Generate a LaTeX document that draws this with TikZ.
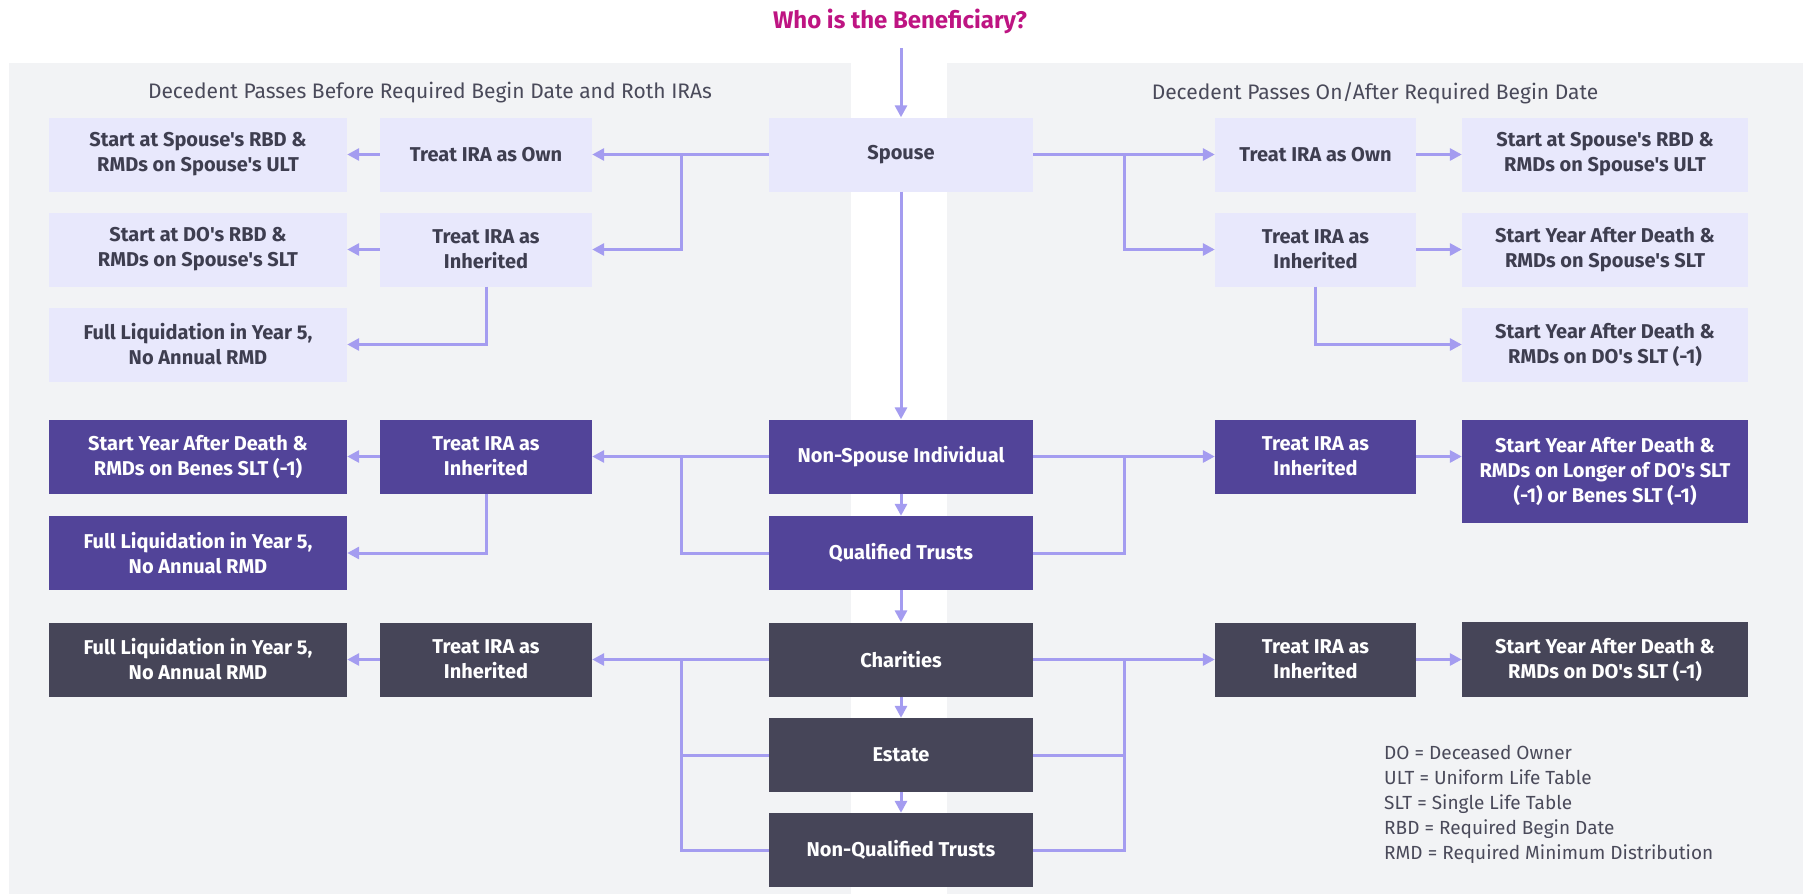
\documentclass[tikz,border=0pt]{standalone}
\usepackage{fontspec}
\setmainfont{Fira Sans}[Ligatures=TeXOff]
\usetikzlibrary{arrows.meta}
\definecolor{panel}{HTML}{F2F3F5}
\definecolor{lightbox}{HTML}{E8E8FC}
\definecolor{purplebox}{HTML}{524499}
\definecolor{darkbox}{HTML}{464558}
\definecolor{arrowc}{HTML}{A49CF0}
\definecolor{magentat}{HTML}{BE1482}
\definecolor{textdark}{HTML}{3E3E50}
\definecolor{headtext}{HTML}{4A4A5A}
\begin{document}
\begin{tikzpicture}[x=1pt,y=-1pt,
 box/.style={inner sep=0pt, align=center, font=\fontsize{20}{25}\selectfont\bfseries},
 lbox/.style={box, fill=lightbox, text=textdark},
 pbox/.style={box, fill=purplebox, text=white},
 dbox/.style={box, fill=darkbox, text=white},
 colL1/.style={minimum width=298pt},
 colL2/.style={minimum width=212pt},
 colC/.style={minimum width=264pt},
 colR2/.style={minimum width=201pt},
 colR3/.style={minimum width=286pt},
 rowh/.style={minimum height=74pt},
 arr/.style={draw=arrowc, line width=3pt, -{Triangle[length=12pt,width=12pt]}},
 link/.style={draw=arrowc, line width=3pt},
 head/.style={text=headtext, font=\fontsize{21}{25}\selectfont},
]
\useasboundingbox (0,0) rectangle (1803,894);
\fill[white] (0,0) rectangle (1803,894);
\fill[panel] (9,63) rectangle (851,894);
\fill[panel] (947,63) rectangle (1803,894);

\node[text=magentat, font=\fontsize{24}{28}\selectfont\bfseries] (title) at (900,21) {Who is the Beneficiary?};
\node[head] (hl) at (430,93) {Decedent Passes Before Required Begin Date and Roth IRAs};
\node[head] (hr) at (1375,93) {Decedent Passes On/After Required Begin Date};

% spouse block
\node[lbox, colC, rowh] (sp) at (901,154.5) {Spouse};
\node[lbox, colL2, rowh] (l2own) at (486,154.5) {Treat IRA as Own};
\node[lbox, colL1, rowh] (l1own) at (198,154.5) {Start at Spouse's RBD \&\\RMDs on Spouse's ULT};
\node[lbox, colL2, rowh] (l2inh) at (486,249.5) {Treat IRA as\\Inherited};
\node[lbox, colL1, rowh] (l1inh) at (198,249.5) {Start at DO's RBD \&\\RMDs on Spouse's SLT};
\node[lbox, colL1, rowh] (l1liq) at (198,344.5) {Full Liquidation in Year 5,\\No Annual RMD};
\node[lbox, colR2, rowh] (r2own) at (1315.5,154.5) {Treat IRA as Own};
\node[lbox, colR3, rowh] (r3own) at (1605,154.5) {Start at Spouse's RBD \&\\RMDs on Spouse's ULT};
\node[lbox, colR2, rowh] (r2inh) at (1315.5,249.5) {Treat IRA as\\Inherited};
\node[lbox, colR3, rowh] (r3inh) at (1605,249.5) {Start Year After Death \&\\RMDs on Spouse's SLT};
\node[lbox, colR3, rowh] (r3do) at (1605,344.5) {Start Year After Death \&\\RMDs on DO's SLT (-1)};

% purple block
\node[pbox, colC, rowh] (ns) at (901,456.5) {Non-Spouse Individual};
\node[pbox, colC, rowh] (qt) at (901,553) {Qualified Trusts};
\node[pbox, colL2, rowh] (l2p) at (486,456.5) {Treat IRA as\\Inherited};
\node[pbox, colL1, rowh] (l1p) at (198,456.5) {Start Year After Death \&\\RMDs on Benes SLT (-1)};
\node[pbox, colL1, rowh] (l1p2) at (198,553) {Full Liquidation in Year 5,\\No Annual RMD};
\node[pbox, colR2, rowh] (r2p) at (1315.5,456.5) {Treat IRA as\\Inherited};
\node[pbox, colR3, minimum height=103pt] (r3p) at (1605,471.5) {Start Year After Death \&\\RMDs on Longer of DO's SLT\\(-1) or Benes SLT (-1)};

% dark block
\node[dbox, colC, rowh] (ch) at (901,659.5) {Charities};
\node[dbox, colC, rowh] (es) at (901,755) {Estate};
\node[dbox, colC, rowh] (nq) at (901,850) {Non-Qualified Trusts};
\node[dbox, colL2, rowh] (l2d) at (486,659.5) {Treat IRA as\\Inherited};
\node[dbox, colL1, rowh] (l1d) at (198,659.5) {Full Liquidation in Year 5,\\No Annual RMD};
\node[dbox, colR2, rowh] (r2d) at (1315.5,659.5) {Treat IRA as\\Inherited};
\node[dbox, colR3, minimum height=75pt] (r3d) at (1605,659.5) {Start Year After Death \&\\RMDs on DO's SLT (-1)};

% legend
\node[anchor=west, align=left, inner sep=0pt, text=headtext, font=\fontsize{19}{25}\selectfont] (legend) at (1384,804) {DO = Deceased Owner\\ULT = Uniform Life Table\\SLT = Single Life Table\\RBD = Required Begin Date\\RMD = Required Minimum Distribution};

% branch coordinates
\coordinate (bl) at (681,0);
\coordinate (br) at (1124,0);
\coordinate (ts) at (901,48);

% central spine
\draw[arr] (ts) -- (sp.north);
\draw[arr] (sp.south) -- (ns.north);
\draw[arr] (ns.south) -- (qt.north);
\draw[arr] (qt.south) -- (ch.north);
\draw[arr] (ch.south) -- (es.north);
\draw[arr] (es.south) -- (nq.north);

% spouse connectors
\draw[arr] (sp.west) -- (l2own.east);
\draw[arr] (sp.west -| bl) |- (l2inh.east);
\draw[arr] (l2own.west) -- (l1own.east);
\draw[arr] (l2inh.west) -- (l1inh.east);
\draw[arr] (l2inh.south) |- (l1liq.east);
\draw[arr] (sp.east) -- (r2own.west);
\draw[arr] (sp.east -| br) |- (r2inh.west);
\draw[arr] (r2own.east) -- (r3own.west);
\draw[arr] (r2inh.east) -- (r3inh.west);
\draw[arr] (r2inh.south) |- (r3do.west);

% purple connectors
\draw[arr] (ns.west) -- (l2p.east);
\draw[link] (qt.west) -| (ns.west -| bl);
\draw[arr] (l2p.west) -- (l1p.east);
\draw[arr] (l2p.south) |- (l1p2.east);
\draw[arr] (ns.east) -- (r2p.west);
\draw[link] (qt.east) -| (ns.east -| br);
\draw[arr] (r2p.east) -- (r2p.east -| r3p.west);

% dark connectors
\draw[arr] (ch.west) -- (l2d.east);
\draw[link] (es.west) -- (es.west -| bl);
\draw[link] (nq.west) -| (ch.west -| bl);
\draw[arr] (l2d.west) -- (l1d.east);
\draw[arr] (ch.east) -- (r2d.west);
\draw[link] (es.east) -- (es.east -| br);
\draw[link] (nq.east) -| (ch.east -| br);
\draw[arr] (r2d.east) -- (r3d.west);
\end{tikzpicture}
\end{document}
